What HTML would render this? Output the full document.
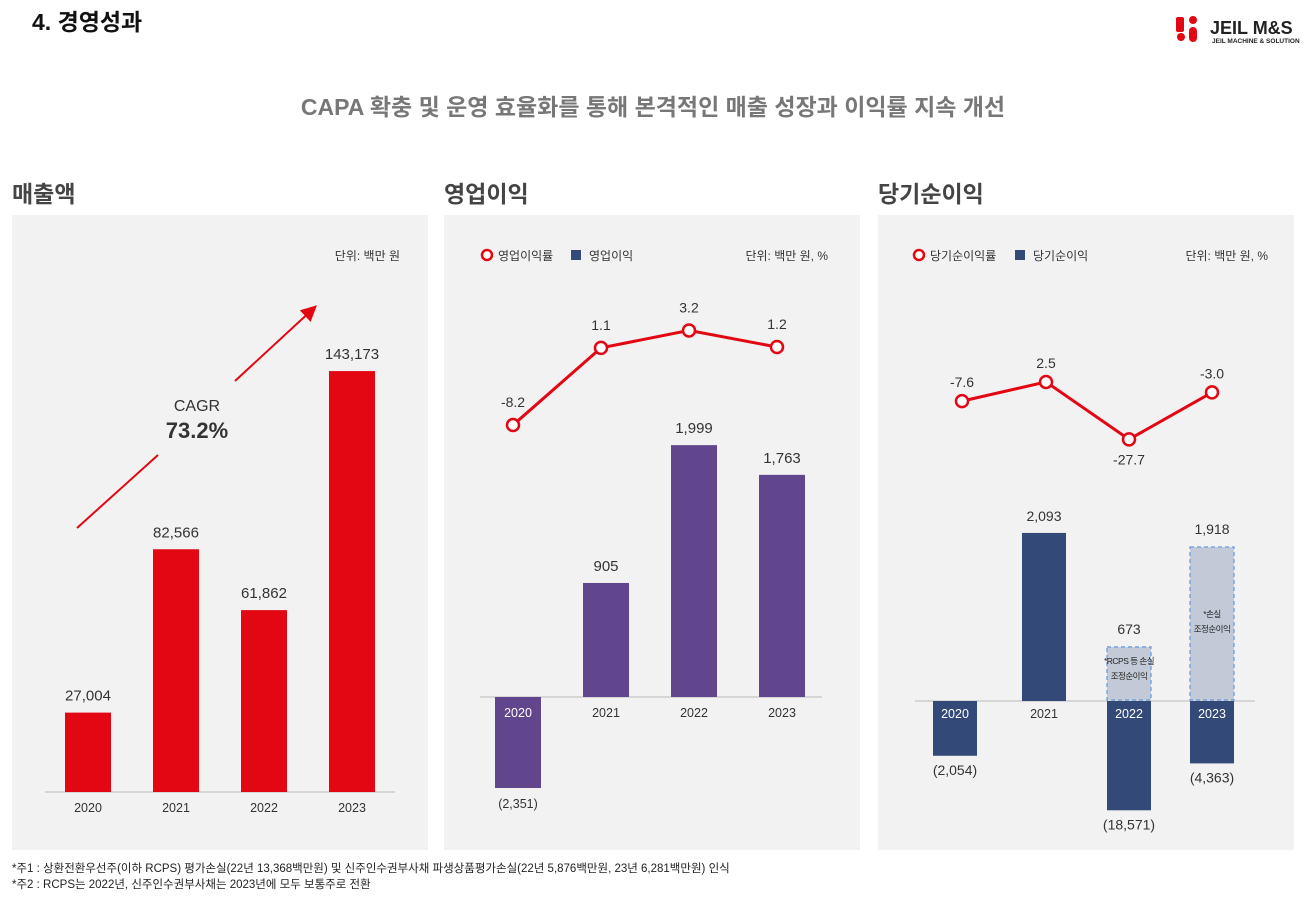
<!DOCTYPE html>
<html><head><meta charset="utf-8"><style>
body{margin:0;width:1314px;height:893px;background:#fff;overflow:hidden;font-family:"Liberation Sans","Noto Sans CJK KR",sans-serif}
svg text{font-family:"Liberation Sans","Noto Sans CJK KR",sans-serif}
</style></head><body>
<svg id="s" width="1314" height="893" viewBox="0 0 1314 893">
<defs><marker id="ah" markerWidth="8" markerHeight="8" refX="6" refY="4" orient="auto"><path d="M0,0 L8,4 L0,8 Z" fill="#e30613"/></marker></defs>
<text x="32" y="30" font-size="23" font-weight="bold" fill="#111">4. 경영성과</text>
<g>
<rect x="1176" y="17" width="8" height="15" rx="2" fill="#e30613"/><circle cx="1181" cy="37" r="4" fill="#e30613"/>
<circle cx="1193" cy="20" r="4" fill="#e30613"/><rect x="1189" y="27" width="8" height="15" rx="4" fill="#e30613"/>
<text x="1210" y="34" font-size="18" font-weight="bold" fill="#222">JEIL M&amp;S</text>
<text x="1212" y="43" font-size="6.5" font-weight="bold" fill="#222">JEIL MACHINE &amp; SOLUTION</text></g>
<text x="653" y="115" text-anchor="middle" font-size="23" font-weight="bold" fill="#777">CAPA 확충 및 운영 효율화를 통해 본격적인 매출 성장과 이익률 지속 개선</text>
<text x="12" y="202" font-size="23" font-weight="bold" fill="#444">매출액</text>
<text x="444" y="202" font-size="23" font-weight="bold" fill="#444">영업이익</text>
<text x="878" y="202" font-size="23" font-weight="bold" fill="#444">당기순이익</text>
<rect x="12" y="215" width="416" height="635" fill="#f2f2f2"/>
<rect x="444" y="215" width="416" height="635" fill="#f2f2f2"/>
<rect x="878" y="215" width="416" height="635" fill="#f2f2f2"/>
<text x="400" y="260" text-anchor="end" font-size="12" fill="#333">단위: 백만 원</text>
<text x="828" y="260" text-anchor="end" font-size="12" fill="#333">단위: 백만 원, %</text>
<text x="1268" y="260" text-anchor="end" font-size="12" fill="#333">단위: 백만 원, %</text>
<g><circle cx="487" cy="255" r="5" fill="#fff" stroke="#e30613" stroke-width="2.5"/><text x="498" y="260" font-size="12" fill="#333">영업이익률</text><rect x="571" y="250" width="10" height="10" fill="#334a78"/><text x="589" y="260" font-size="12" fill="#333">영업이익</text></g>
<g><circle cx="919" cy="255" r="5" fill="#fff" stroke="#e30613" stroke-width="2.5"/><text x="930" y="260" font-size="12" fill="#333">당기순이익률</text><rect x="1015" y="250" width="10" height="10" fill="#334a78"/><text x="1033" y="260" font-size="12" fill="#333">당기순이익</text></g>
<line x1="77" y1="528" x2="158" y2="455" stroke="#e30613" stroke-width="2"/>
<line x1="235" y1="381" x2="314" y2="308" stroke="#e30613" stroke-width="2" marker-end="url(#ah)"/>
<text x="197" y="411" text-anchor="middle" font-size="16" fill="#333">CAGR</text>
<text x="197" y="438" text-anchor="middle" font-size="22" font-weight="bold" fill="#333">73.2%</text>
<g id="g1"></g><g id="g2"></g><g id="g3"></g>
<text x="12" y="872" font-size="11.5" fill="#222">*주1 : 상환전환우선주(이하 RCPS) 평가손실(22년 13,368백만원) 및 신주인수권부사채 파생상품평가손실(22년 5,876백만원, 23년 6,281백만원) 인식</text>
<text x="12" y="888" font-size="11.5" fill="#222">*주2 : RCPS는 2022년, 신주인수권부사채는 2023년에 모두 보통주로 전환</text>
</svg>
<script>
const years=["2020","2021","2022","2023"];
const revenue=[27004,82566,61862,143173];
const opProfit=[-2351,905,1999,1763];
const opMargin=[-8.2,1.1,3.2,1.2];
const netIncome=[-2054,2093,-18571,-4363];
const adjNetIncome=[null,null,673,1918];
const netMargin=[-7.6,2.5,-27.7,-3.0];
const opLabels=["(2,351)","905","1,999","1,763"];
const netLabels=["(2,054)","2,093","(18,571)","(4,363)"];
const adjLabels=["","","673","1,918"];
const NS="http://www.w3.org/2000/svg";
function mk(p,t,a,txt){const e=document.createElementNS(NS,t);for(const k in a)e.setAttribute(k,a[k]);if(txt!=null)e.textContent=txt;p.appendChild(e);return e;}
const fmt=v=>v.toLocaleString('en-US');
// chart 1
const g1=document.getElementById('g1');
const x1=i=>88+i*88, y1=v=>792-v*0.00294;
const ax1=mk(g1,'line',{x1:45,x2:395,y1:792,y2:792,stroke:'#bbb'});


revenue.forEach((v,i)=>{
 const b=mk(g1,'rect',{x:x1(i)-23,y:y1(v),width:46,height:792-y1(v),fill:'#e30613'});
 
 
 const l=mk(g1,'text',{x:x1(i),y:y1(v)-12,'text-anchor':'middle','font-size':15,fill:'#333'},fmt(v));
 
 
 const t=mk(g1,'text',{x:x1(i),y:812,'text-anchor':'middle','font-size':12.5,fill:'#333'},years[i]);
 
 
});
// chart 2
const g2=document.getElementById('g2');
const x2=i=>518+i*88, base2=697;
const h2=v=>v>=0?v*0.126:v*0.0387;
const ym2=m=>357-m*8.3;
const ax2=mk(g2,'line',{x1:480,x2:822,y1:base2,y2:base2,stroke:'#bbb'});


opProfit.forEach((v,i)=>{
 const h=h2(v);
 const b=mk(g2,'rect',{x:x2(i)-23,y:v>=0?base2-h:base2,width:46,height:Math.abs(h),fill:'#62468d'});
 
 
 const l=mk(g2,'text',{x:x2(i),y:v>=0?base2-h-12:base2-h+20,'text-anchor':'middle','font-size':v>=0?15:12.5,fill:'#333'},opLabels[i]);
 
 
 const t=mk(g2,'text',{x:x2(i),y:717,'text-anchor':'middle','font-size':12.5,fill:v<0?'#fff':'#333'},years[i]);
 
 
});
const pl2=mk(g2,'polyline',{points:opMargin.map((m,i)=>x2(i)-5+','+ym2(m)).join(' '),fill:'none',stroke:'#e30613','stroke-width':3});


opMargin.forEach((m,i)=>{
 const c=mk(g2,'circle',{cx:x2(i)-5,cy:ym2(m),r:6,fill:'#fff',stroke:'#e30613','stroke-width':2.5});
 
 
 const l=mk(g2,'text',{x:x2(i)-5,y:ym2(m)-18,'text-anchor':'middle','font-size':14,fill:'#333'},m.toFixed(1));
 
 
});
// chart 3
const g3=document.getElementById('g3');
const x3=i=>[955,1044,1129,1212][i], base3=701;
const hp3=v=>v*0.0803, hn3=v=>48+Math.abs(v)*0.0033;
const ym3=m=>386.7-m*1.9;
const ax3=mk(g3,'line',{x1:915,x2:1255,y1:base3,y2:base3,stroke:'#bbb'});


netIncome.forEach((v,i)=>{
 const h=v>=0?hp3(v):hn3(v);
 const b=mk(g3,'rect',{x:x3(i)-22,y:v>=0?base3-h:base3,width:44,height:h,fill:'#334a78'});
 
 
 const l=mk(g3,'text',{x:x3(i),y:v>=0?base3-h-12:base3+h+19,'text-anchor':'middle','font-size':14,fill:'#333'},netLabels[i]);
 
 
 const t=mk(g3,'text',{x:x3(i),y:718,'text-anchor':'middle','font-size':12.5,fill:v<0?'#fff':'#333'},years[i]);
 
 
});
adjNetIncome.forEach((v,i)=>{
 if(v==null)return;
 const h=Math.max(hp3(v),45);
 const b=mk(g3,'rect',{x:x3(i)-22,y:base3-h,width:44,height:h-1,fill:'#c3cad7',stroke:'#6a9ee0','stroke-width':1.3,'stroke-dasharray':'4,3'});
 
 
 const l=mk(g3,'text',{x:x3(i),y:base3-h-13,'text-anchor':'middle','font-size':14,fill:'#333'},adjLabels[i]);
 
 
 const n1=i==2?'*RCPS 등 손실':'*손실';
 const ty=i==2?base3-h+17:base3-h+70;
 const a=mk(g3,'text',{x:x3(i),y:ty,'text-anchor':'middle','font-size':8.5,fill:'#222','letter-spacing':'-0.5'},n1);
 
 
 const c=mk(g3,'text',{x:x3(i),y:ty+15,'text-anchor':'middle','font-size':8.5,fill:'#222','letter-spacing':'-0.5'},'조정순이익');
 
 
});
const mx3=i=>x3(i)+(i==0?7:i==1?2:0);
const pl3=mk(g3,'polyline',{points:netMargin.map((m,i)=>mx3(i)+','+ym3(m)).join(' '),fill:'none',stroke:'#e30613','stroke-width':3});


netMargin.forEach((m,i)=>{
 const c=mk(g3,'circle',{cx:mx3(i),cy:ym3(m),r:6,fill:'#fff',stroke:'#e30613','stroke-width':2.5});
 
 
 const below=i==2;
 const l=mk(g3,'text',{x:mx3(i),y:below?ym3(m)+25:ym3(m)-14,'text-anchor':'middle','font-size':14,fill:'#333'},m.toFixed(1));
 
 
});
</script>
</body></html>
